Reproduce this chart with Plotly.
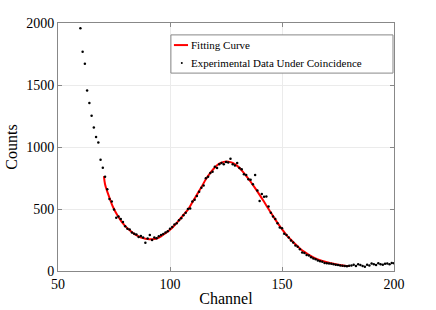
import plotly.graph_objects as go

# Experimental data (channel, counts)
channels = list(range(60, 201))
counts = [1958, 1768, 1671, 1456, 1354, 1252, 1158, 1080, 1037, 897,
          833, 760, 660, 580, 560, 495, 430, 440, 420, 395,
          360, 340, 335, 310, 300, 295, 275, 282, 270, 228,
          262, 290, 250, 270, 265, 280, 290, 298, 310, 320,
          340, 355, 375, 385, 410, 425, 450, 470, 500, 505,
          560, 575, 605, 640, 672, 690, 748, 760, 790, 800,
          840, 830, 860, 870, 860, 880, 875, 905, 860, 850,
          870, 830, 820, 780, 775, 740, 735, 700, 774, 650,
          564, 620, 599, 600, 520, 470, 440, 420, 385, 350,
          345, 300, 290, 270, 245, 230, 205, 195, 175, 150,
          145, 130, 125, 110, 100, 95, 85, 78, 75, 65,
          63, 60, 58, 55, 50, 48, 45, 42, 40, 38,
          42, 45, 50, 40, 55, 48, 40, 35, 50, 45,
          60, 55, 48, 62, 55, 50, 58, 60, 55, 65,
          62]

# Fitting curve (channel, counts)
fit_x = [70.5, 71, 72, 73, 74, 75, 76, 77, 78, 79, 80, 82, 84, 86, 88, 90, 92, 94, 96, 98,
         100, 102, 104, 106, 108, 110, 112, 114, 116, 118, 120, 122, 124, 126, 128, 130,
         132, 134, 136, 138, 140, 142, 144, 146, 148, 150, 152, 154, 156, 158, 160, 162,
         164, 166, 168, 170, 172, 174, 176, 178, 180]
fit_y = [765, 700, 640, 590, 540, 500, 465, 435, 408, 384, 362, 328, 300, 280, 265, 257, 256, 262, 280, 305,
         332, 368, 408, 452, 495, 555, 615, 675, 740, 792, 835, 866, 880, 882, 872, 848,
         812, 768, 720, 668, 614, 558, 500, 444, 388, 338, 290, 252, 215, 182, 154, 130,
         110, 94, 81, 71, 63, 55, 48, 42, 40]

series_names = ["Fitting Curve", "Experimental Data Under Coincidence"]
x_ticks = [50, 100, 150, 200]
y_ticks = [0, 500, 1000, 1500, 2000]

FONT = "Liberation Serif, Times New Roman, serif"
RED = "#ff0000"

fig = go.Figure()
fig.add_trace(go.Scatter(x=fit_x, y=fit_y, mode="lines", name=series_names[0],
                         line=dict(color=RED, width=2, shape="spline"), showlegend=False))
fig.add_trace(go.Scatter(x=channels, y=counts, mode="markers", name=series_names[1],
                         marker=dict(color="black", size=2.5), showlegend=False))

axis_common = dict(showline=True, linecolor="#888888", linewidth=1, mirror="ticks",
                   ticks="inside", ticklen=4, tickcolor="#888888", automargin=False,
                   showgrid=True, gridcolor="#ebebeb", gridwidth=1, zeroline=False,
                   tickfont=dict(family=FONT, size=14, color="black"))

fig.update_xaxes(range=[50, 200], tickvals=x_ticks,
                 title=dict(text="Channel", font=dict(family=FONT, size=16, color="black"), standoff=2),
                 **axis_common)
fig.update_yaxes(range=[0, 2000], tickvals=y_ticks,
                 title=dict(text="Counts", font=dict(family=FONT, size=16, color="black"), standoff=4),
                 **axis_common)

# Legend box drawn in plot-area (paper) coordinates
fig.add_shape(type="rect", xref="paper", yref="paper", x0=0.336, x1=0.997, y0=0.798, y1=0.952,
              line=dict(color="#888888", width=1), fillcolor="white", layer="above")
fig.add_shape(type="line", xref="paper", yref="paper", x0=0.345, x1=0.387, y0=0.911, y1=0.911,
              line=dict(color=RED, width=2), layer="above")
fig.add_shape(type="circle", xref="paper", yref="paper", x0=0.3655, x1=0.3715, y0=0.835, y1=0.843,
              line=dict(color="black", width=0), fillcolor="black", layer="above")
fig.add_annotation(xref="paper", yref="paper", x=0.391, y=0.911, xanchor="left", yanchor="middle",
                   text=series_names[0], showarrow=False,
                   font=dict(family=FONT, size=11, color="black"))
fig.add_annotation(xref="paper", yref="paper", x=0.391, y=0.839, xanchor="left", yanchor="middle",
                   text=series_names[1], showarrow=False,
                   font=dict(family=FONT, size=11, color="black"))

fig.update_layout(
    width=436, height=310,
    margin=dict(l=58, r=42, t=23, b=39, autoexpand=False),
    plot_bgcolor="white", paper_bgcolor="white",
    font=dict(family=FONT, color="black"),
    showlegend=False,
)

fig.write_html("out.html", config={"displayModeBar": False},
               post_script="document.body.style.margin='0';document.body.style.overflow='hidden';")
